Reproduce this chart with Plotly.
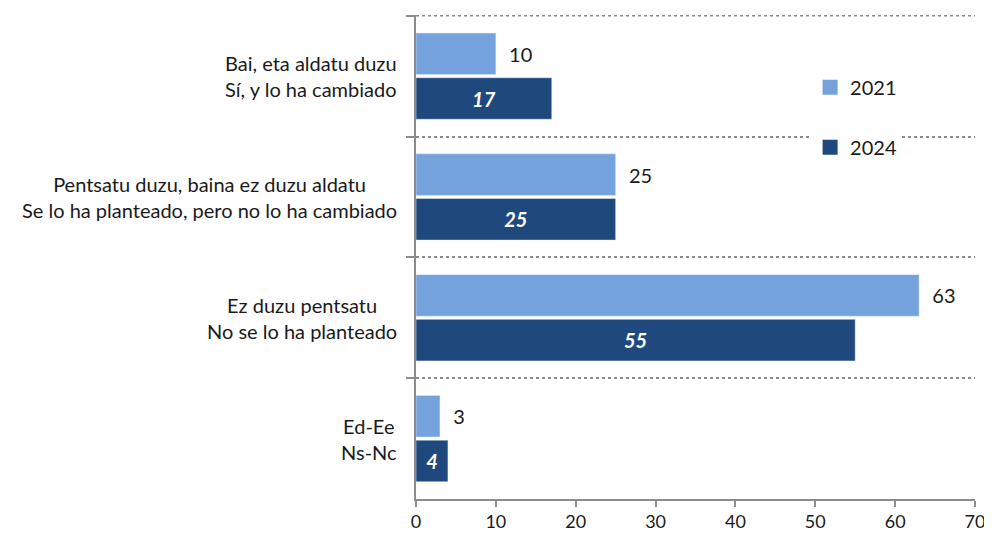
import plotly.graph_objects as go

categories = [
    "Bai, eta aldatu duzu<br>Sí, y lo ha cambiado",
    "Pentsatu duzu, baina ez duzu aldatu<br>Se lo ha planteado, pero no lo ha cambiado",
    "Ez duzu pentsatu<br>No se lo ha planteado",
    "Ed-Ee<br>Ns-Nc",
]
values_2021 = [10, 25, 63, 3]
values_2024 = [17, 25, 55, 4]
series_names = ["2021", "2024"]
x_ticks = [0, 10, 20, 30, 40, 50, 60, 70]

LIGHT = "#73A2DC"
DARK = "#1F497D"
GRID = "#8c8c8c"
FONT = "Lato"
PAD = "\u00a0\u00a0"

fig = go.Figure()
fig.add_trace(go.Bar(
    y=categories, x=values_2021, name=series_names[0], orientation="h",
    marker=dict(color=LIGHT), text=[PAD + str(v) for v in values_2021],
    textposition="outside", textfont=dict(family=FONT, size=20, color="#1a1a1a"),
    cliponaxis=False, showlegend=False,
))
fig.add_trace(go.Bar(
    y=categories, x=values_2024, name=series_names[1], orientation="h",
    marker=dict(color=DARK), text=[f"<b><i>{v}</i></b>" for v in values_2024],
    textposition="inside", insidetextanchor="middle",
    textfont=dict(family=FONT, size=20, color="white"),
    showlegend=False,
))
# legend entries with larger square swatches
for name, col, grp in [(series_names[0], LIGHT, "a"), (series_names[1], DARK, "b")]:
    fig.add_trace(go.Scatter(
        x=[None], y=[None], mode="markers", name=name, legendgroup=grp,
        marker=dict(symbol="square", size=15, color=col),
    ))

for c in categories:
    fig.add_annotation(
        x=0, xref="paper", y=c, yref="y", text=c, showarrow=False,
        xanchor="right", yanchor="middle", align="center", xshift=-17,
        font=dict(family=FONT, size=20, color="#1a1a1a"),
    )

# top boundary dotted line (plotly omits the gridline at the range edge)
fig.add_shape(type="line", xref="paper", x0=0, x1=1, yref="y", y0=-0.5, y1=-0.5,
              line=dict(color=GRID, width=1.5, dash="dot"))

# the page body has an 8px margin, so the figure is sized to the visible area
fig.update_layout(
    width=984, height=529,
    margin=dict(l=408, r=17, t=7, b=38),
    plot_bgcolor="white", paper_bgcolor="white",
    barmode="group", bargap=0.26, bargroupgap=0.07,
    font=dict(family=FONT, size=18, color="#1a1a1a"),
    legend=dict(
        x=0.705, y=0.891, xanchor="left", yanchor="top",
        bgcolor="white", traceorder="grouped", tracegroupgap=31,
        font=dict(family=FONT, size=20, color="#1a1a1a"),
        itemwidth=30,
    ),
    xaxis=dict(
        range=[0, 70], tickvals=x_ticks, showgrid=False, zeroline=False,
        showline=True, linecolor=GRID, linewidth=1.5, automargin=False,
        ticks="outside", ticklen=6, tickcolor=GRID, tickwidth=1.5,
        tickfont=dict(family=FONT, size=18, color="#1a1a1a"),
    ),
    yaxis=dict(
        autorange="reversed", type="category", showticklabels=False,
        tickson="boundaries", ticks="outside", ticklen=8, tickcolor=GRID,
        tickwidth=1.5, showline=True, linecolor=GRID, linewidth=1.5,
        showgrid=True, gridcolor=GRID, griddash="dot", gridwidth=1.5,
        automargin=False,
    ),
)

fig.write_html("out.html")
